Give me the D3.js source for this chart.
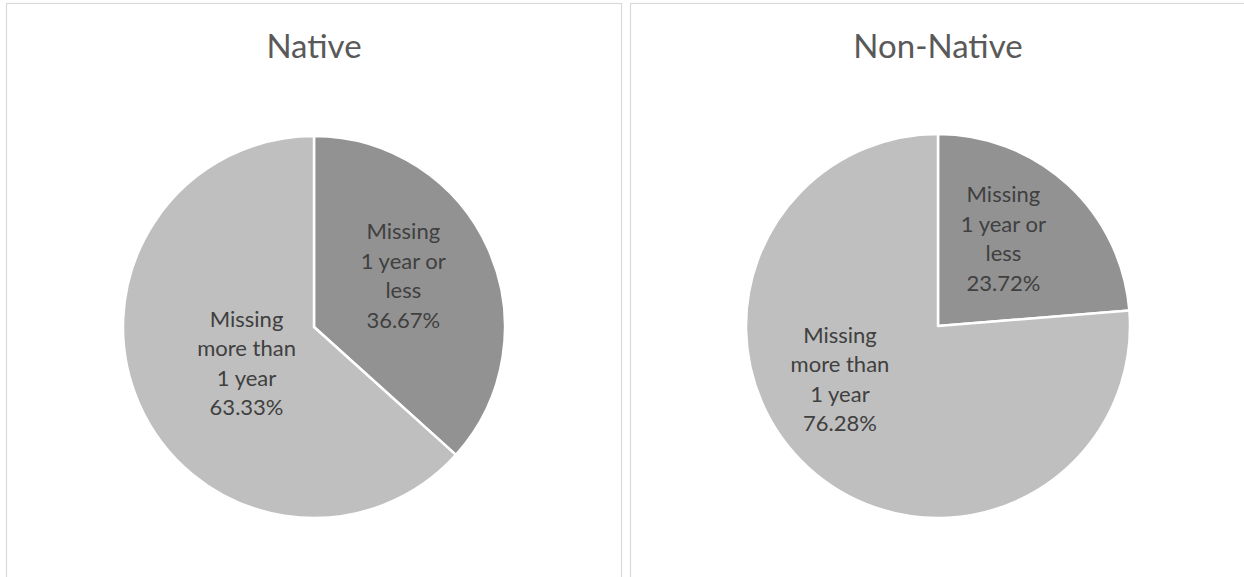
<!DOCTYPE html>
<html>
<head>
<meta charset="utf-8">
<script src="https://cdn.jsdelivr.net/npm/d3@7"></script>
<style>
  html, body { margin: 0; padding: 0; background: #fff; }
  svg { display: block; }
</style>
</head>
<body>
<svg id="chart" width="1244" height="577"></svg>
<script>
// ---- data ----
const chartTitles = ["Native", "Non-Native"];
const categories = ["Missing 1 year or less", "Missing more than 1 year"];
const nativeValues = [36.67, 63.33];
const nonNativeValues = [23.72, 76.28];
const labelLines = [["Missing", "1 year or", "less"], ["Missing", "more than", "1 year"]];

// ---- layout / style ----
const W = 1244, H = 577;
const FONT = "Lato, 'Open Sans', sans-serif";
const sliceColors = ["#929292", "#bfbfbf"];
const panels = [
  { x: 6.5, y: 3.5, w: 615, cx: 314, cy: 327, r: 191, values: nativeValues, title: chartTitles[0],
    label: [{ a: -6, f: 0.54 }, { a: -4, f: 0.40 }] },
  { x: 630.5, y: 3.5, w: 615, cx: 938, cy: 326, r: 192, values: nonNativeValues, title: chartTitles[1],
    label: [{ a: -6, f: 0.57 }, { a: 19, f: 0.58 }] }
];

const svg = d3.select("#chart");

panels.forEach(p => {
  const g = svg.append("g");
  g.append("rect")
    .attr("x", p.x).attr("y", p.y).attr("width", p.w).attr("height", H + 20)
    .attr("fill", "#fff").attr("stroke", "#d9d9d9").attr("stroke-width", 1.2);

  g.append("text")
    .attr("x", p.cx).attr("y", 58)
    .attr("text-anchor", "middle")
    .attr("font-family", FONT).attr("font-size", 33)
    .attr("fill", "#595959")
    .text(p.title);

  const pie = d3.pie().sort(null).value(d => d);
  const arcs = pie(p.values);
  const arc = d3.arc().innerRadius(0).outerRadius(p.r);

  const pg = g.append("g").attr("transform", `translate(${p.cx},${p.cy})`);
  pg.selectAll("path").data(arcs).join("path")
    .attr("d", arc)
    .attr("fill", (d, i) => sliceColors[i])
    .attr("stroke", "#fff").attr("stroke-width", 2.5).attr("stroke-linejoin", "round");

  arcs.forEach((d, i) => {
    const mid = (d.startAngle + d.endAngle) / 2 + p.label[i].a * Math.PI / 180;
    const rr = p.r * p.label[i].f;
    const lx = Math.sin(mid) * rr, ly = -Math.cos(mid) * rr;
    const lines = labelLines[i].concat([d.data.toFixed(2) + "%"]);
    const lh = 29.5;
    const t = pg.append("text")
      .attr("text-anchor", "middle")
      .attr("font-family", FONT).attr("font-size", 22)
      .attr("fill", "#404040");
    lines.forEach((ln, k) => {
      t.append("tspan")
        .attr("x", lx)
        .attr("y", ly + (k - (lines.length - 1) / 2) * lh + 8)
        .text(ln);
    });
  });
});
</script>
</body>
</html>
